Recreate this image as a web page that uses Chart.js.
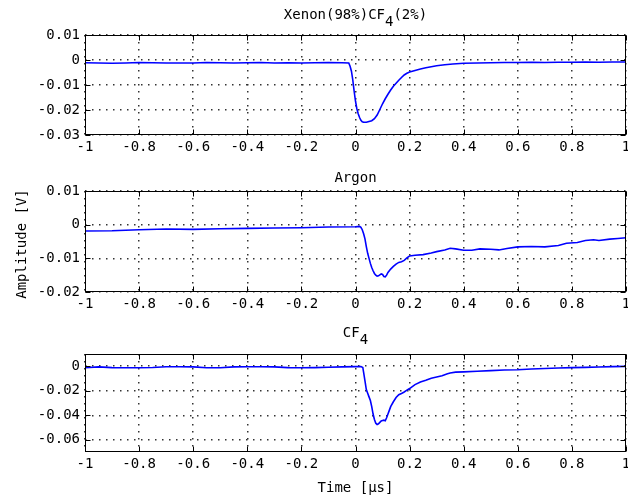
<!DOCTYPE html>
<html><head><meta charset="utf-8">
<script src="https://cdn.jsdelivr.net/npm/chart.js@4.4.0/dist/chart.umd.min.js"></script>
<style>
html,body{margin:0;padding:0;background:#fff;}
#wrap{position:relative;width:628px;height:501px;overflow:hidden;}
.c{position:absolute;left:0;width:628px;}
</style></head><body>
<div id="wrap">
<div class="c" style="top:0;height:160px"><canvas id="c1"></canvas></div>
<div class="c" style="top:160px;height:160px"><canvas id="c2"></canvas></div>
<div class="c" style="top:320px;height:181px"><canvas id="c3"></canvas></div>
</div>
<script>
const xTicks = [-1,-0.8,-0.6,-0.4,-0.2,0,0.2,0.4,0.6,0.8,1];
const xTickLabels = ['-1','-0.8','-0.6','-0.4','-0.2','0','0.2','0.4','0.6','0.8','1'];

const xenonYTicks = [-0.03,-0.02,-0.01,0,0.01];
const xenonYTickLabels = ['-0.03','-0.02','-0.01','0','0.01'];
const argonYTicks = [-0.02,-0.01,0,0.01];
const argonYTickLabels = ['-0.02','-0.01','0','0.01'];
const cf4YTicks = [-0.06,-0.04,-0.02,0];
const cf4YTickLabels = ['-0.06','-0.04','-0.02','0'];

const xenonTime = [
 -1,-0.95,-0.9,-0.85,-0.8,-0.75,-0.7,-0.65,-0.6,-0.55,
 -0.5,-0.45,-0.4,-0.35,-0.3,-0.25,-0.2,-0.15,-0.1,-0.05,
 -0.025,-0.02,-0.015,-0.01,-0.005,0,0.005,0.01,0.015,0.02,
 0.025,0.03,0.04,0.05,0.06,0.07,0.08,0.09,0.1,0.11,
 0.12,0.13,0.14,0.15,0.16,0.17,0.18,0.19,0.2,0.22,
 0.24,0.26,0.28,0.3,0.33,0.36,0.4,0.45,0.5,0.55,
 0.6,0.65,0.7,0.75,0.8,0.85,0.9,0.95,1];
const xenonAmp = [
 -0.0011,-0.0012,-0.0013,-0.0012,-0.0010,-0.0011,-0.0012,-0.0012,-0.0012,-0.0010,
 -0.0011,-0.0012,-0.0011,-0.0010,-0.0012,-0.0011,-0.0012,-0.0011,-0.0010,-0.0011,
 -0.0012,-0.0025,-0.0045,-0.0080,-0.0125,-0.0165,-0.0195,-0.0215,-0.0230,-0.0241,
 -0.0247,-0.0249,-0.0249,-0.0246,-0.0243,-0.0235,-0.0220,-0.0198,-0.0175,-0.0155,
 -0.0137,-0.0120,-0.0105,-0.0093,-0.0081,-0.0070,-0.0060,-0.0053,-0.0048,-0.0042,
 -0.0036,-0.0031,-0.0027,-0.0023,-0.0019,-0.0016,-0.0013,-0.0012,-0.0011,-0.0010,
 -0.0010,-0.0009,-0.0010,-0.0009,-0.0009,-0.0008,-0.0009,-0.0008,-0.0008];

const argonTime = [
 -1,-0.9,-0.8,-0.7,-0.6,-0.5,-0.4,-0.3,-0.2,-0.1,
 0,0.015,0.02,0.025,0.03,0.035,0.04,0.045,0.05,0.055,
 0.06,0.065,0.07,0.075,0.08,0.085,0.09,0.095,0.1,0.105,
 0.11,0.115,0.12,0.13,0.14,0.15,0.16,0.17,0.18,0.19,
 0.2,0.22,0.25,0.28,0.3,0.33,0.35,0.37,0.4,0.43,
 0.46,0.5,0.53,0.56,0.6,0.65,0.7,0.75,0.78,0.82,
 0.85,0.88,0.9,0.94,0.97,1];
const argonAmp = [
 -0.0019,-0.0018,-0.0015,-0.0013,-0.0014,-0.0012,-0.0011,-0.0010,-0.0009,-0.0007,
 -0.0006,-0.0005,-0.0008,-0.0015,-0.0027,-0.0042,-0.0065,-0.0085,-0.0100,-0.0115,
 -0.0127,-0.0137,-0.0145,-0.0150,-0.0153,-0.0152,-0.0149,-0.0146,-0.0148,-0.0154,
 -0.0155,-0.0150,-0.0142,-0.0132,-0.0124,-0.0117,-0.0112,-0.0110,-0.0106,-0.0099,
 -0.0093,-0.0091,-0.0089,-0.0084,-0.0080,-0.0075,-0.0070,-0.0072,-0.0076,-0.0076,
 -0.0072,-0.0073,-0.0075,-0.0071,-0.0066,-0.0065,-0.0066,-0.0062,-0.0055,-0.0053,
 -0.0047,-0.0045,-0.0047,-0.0043,-0.0041,-0.0039];

const cf4Time = [
 -1,-0.95,-0.9,-0.85,-0.8,-0.75,-0.7,-0.65,-0.6,-0.55,
 -0.5,-0.45,-0.4,-0.35,-0.3,-0.25,-0.2,-0.15,-0.1,-0.05,
 0,0.02,0.027,0.03,0.035,0.04,0.045,0.05,0.055,0.06,
 0.065,0.07,0.075,0.08,0.085,0.09,0.095,0.1,0.105,0.11,
 0.115,0.12,0.125,0.13,0.14,0.15,0.16,0.17,0.18,0.19,
 0.2,0.22,0.24,0.26,0.28,0.3,0.32,0.34,0.35,0.37,
 0.4,0.45,0.5,0.55,0.6,0.65,0.7,0.75,0.8,0.85,
 0.9,0.95,1];
const cf4Amp = [
 -0.0012,-0.0005,-0.0011,-0.0012,-0.0012,-0.0010,-0.0004,-0.0004,-0.0005,-0.0012,
 -0.0012,-0.0005,-0.0004,-0.0004,-0.0005,-0.0011,-0.0012,-0.0011,-0.0008,-0.0005,
 -0.0003,-0.0003,-0.0010,-0.0050,-0.0120,-0.0190,-0.0220,-0.0250,-0.0280,-0.0330,
 -0.0390,-0.0435,-0.0465,-0.0475,-0.0470,-0.0458,-0.0447,-0.0443,-0.0440,-0.0445,
 -0.0420,-0.0390,-0.0360,-0.0330,-0.0290,-0.0255,-0.0232,-0.0222,-0.0210,-0.0195,
 -0.0182,-0.0150,-0.0128,-0.0115,-0.0098,-0.0088,-0.0078,-0.0062,-0.0055,-0.0048,
 -0.0046,-0.0041,-0.0036,-0.0031,-0.0028,-0.0022,-0.0018,-0.0014,-0.0011,-0.0009,
 -0.0006,-0.0003,-0.0001];

const FONT = '"DejaVu Sans Mono", monospace';
const tickFont = {family: FONT, size: 14};

const framePlugin = {
  id: 'frame',
  afterDraw(chart, args, opts) {
    const ctx = chart.ctx;
    const a = chart.chartArea;
    const xs = chart.scales.x, ys = chart.scales.y;
    ctx.save();
    ctx.strokeStyle = '#000';
    ctx.lineWidth = 1;
    const L = Math.round(a.left) + 0.5, R = Math.round(a.right) - 0.5;
    const T = Math.round(a.top) + 0.5, B = Math.round(a.bottom) - 0.5;
    ctx.strokeRect(L, T, R - L, B - T);
    const tl = 5;
    ctx.beginPath();
    xTicks.forEach(v => {
      const p = Math.round(xs.getPixelForValue(v)) + 0.5;
      ctx.moveTo(p, B); ctx.lineTo(p, B - tl);
      ctx.moveTo(p, T); ctx.lineTo(p, T + tl);
    });
    opts.yTicks.forEach(v => {
      const p = Math.round(ys.getPixelForValue(v)) + 0.5;
      ctx.moveTo(L, p); ctx.lineTo(L + tl, p);
      ctx.moveTo(R, p); ctx.lineTo(R - tl, p);
    });
    ctx.stroke();
    // title
    ctx.fillStyle = '#000';
    ctx.font = '14px ' + FONT;
    ctx.textAlign = 'left';
    ctx.textBaseline = 'alphabetic';
    const parts = opts.title;
    const total = parts.reduce((s, p) => s + ctx.measureText(p.t).width, 0);
    let x = (a.left + a.right) / 2 - total / 2;
    const by = a.top - opts.titleGap;
    parts.forEach(p => {
      ctx.fillText(p.t, x, by + (p.sub ? 7 : 0));
      x += ctx.measureText(p.t).width;
    });
    if (opts.xLabel) {
      ctx.textAlign = 'center';
      ctx.fillText(opts.xLabel, (a.left + a.right) / 2, opts.xLabelY);
    }
    if (opts.yLabel) {
      ctx.translate(opts.yLabelX, opts.yLabelY);
      ctx.rotate(-Math.PI / 2);
      ctx.textAlign = 'center';
      ctx.fillText(opts.yLabel, 0, 0);
    }
    ctx.restore();
  }
};

function build(id, time, amp, yMin, yMax, yTicks, yLabels, padTop, xH, frameOpts) {
  const data = time.map((t, i) => ({x: t, y: amp[i]}));
  frameOpts.yTicks = yTicks;
  new Chart(document.getElementById(id), {
    type: 'line',
    data: {datasets: [{data, borderColor: '#0000ff', borderWidth: 1.6, pointRadius: 0, tension: 0, fill: false}]},
    options: {
      responsive: true, maintainAspectRatio: false, animation: false,
      layout: {padding: {top: padTop, right: 2, left: 0, bottom: 0}},
      plugins: {legend: {display: false}, tooltip: {enabled: false}, title: {display: false}, frame: frameOpts},
      scales: {
        x: {
          type: 'linear', min: -1, max: 1,
          afterBuildTicks: s => { s.ticks = xTicks.map(v => ({value: v})); },
          afterFit: s => { s.height = xH; s.paddingLeft = 0; s.paddingRight = 0; },
          ticks: {callback: (v, i) => xTickLabels[i], font: tickFont, color: '#000', padding: 4, maxRotation: 0, autoSkip: false},
          grid: {color: '#333', lineWidth: 1.5, drawTicks: false},
          border: {display: false, dash: [1.5, 5.5]}
        },
        y: {
          type: 'linear', min: yMin, max: yMax,
          afterBuildTicks: s => { s.ticks = yTicks.map(v => ({value: v})); },
          afterFit: s => { s.width = 85; s.paddingTop = 0; s.paddingBottom = 0; },
          ticks: {callback: (v, i) => yLabels[i], font: tickFont, color: '#000', padding: 5, autoSkip: false},
          grid: {color: '#333', lineWidth: 1.5, drawTicks: false},
          border: {display: false, dash: [1.5, 5.5]}
        }
      }
    },
    plugins: [framePlugin]
  });
}

build('c1', xenonTime, xenonAmp, -0.03, 0.01, xenonYTicks, xenonYTickLabels, 35, 25,
  {title: [{t: 'Xenon(98%)CF'}, {t: '4', sub: true}, {t: '(2%)'}], titleGap: 16});
build('c2', argonTime, argonAmp, -0.02, 0.01, argonYTicks, argonYTickLabels, 31, 28,
  {title: [{t: 'Argon'}], titleGap: 9, yLabel: 'Amplitude [V]', yLabelX: 26, yLabelY: 84});
build('c3', cf4Time, cf4Amp, -0.07, 0.01, cf4YTicks, cf4YTickLabels, 34, 49,
  {title: [{t: 'CF'}, {t: '4', sub: true}], titleGap: 17, xLabel: 'Time [µs]', xLabelY: 172});
</script>
</body></html>
